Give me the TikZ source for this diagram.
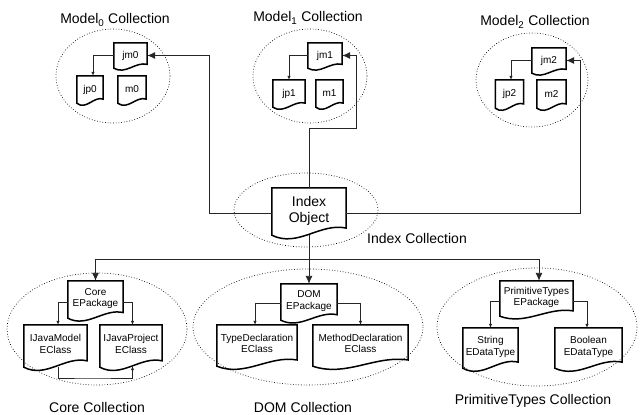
\documentclass[tikz,border=0pt]{standalone}
\usepackage{fontspec}
\setmainfont{Liberation Sans}
\usetikzlibrary{arrows.meta,calc}
\tikzset{
  doc/.style={inner sep=0pt, align=center, font=\fontsize{10}{11.5}\selectfont},
  docline/.style={line width=1.5pt, line join=miter},
  coll/.style={draw, dotted, line width=0.7pt},
  colltitle/.style={font=\fontsize{14}{16}\selectfont, inner sep=0pt},
  conn/.style={line width=0.9pt, draw=black!85},
  bigarrow/.style={conn, -{Latex[length=8pt,width=7pt]}},
  smallarrow/.style={conn, -{Latex[length=4pt,width=3.5pt]}},
}
\newcommand\docshape[1]{%
  \draw[docline] let \p1=(#1.south west), \p2=(#1.north east),
    \n1={\x2-\x1}, \n2={\y2-\y1} in
    (\x1,\y2) -- (\x2,\y2) -- (\x2,{\y1+0.15*\n2})
    .. controls ({\x2-0.35*\n1},{\y1+0.27*\n2}) and ({\x1+0.35*\n1},{\y1-0.27*\n2}) .. (\x1,\y1) -- cycle;}
\newcommand\lowdepth{\rule[-4pt]{0pt}{4pt}}
\begin{document}
\begin{tikzpicture}[x=1pt,y=-1pt]
\useasboundingbox (0,0) rectangle (640,415);

% ---------- collection ellipses ----------
\draw[coll] (113,76) ellipse [x radius=57, y radius=47];
\draw[coll] (310,76) ellipse [x radius=57, y radius=47];
\draw[coll] (532,80) ellipse [x radius=56, y radius=47];
\draw[coll] (306,210) ellipse [x radius=72, y radius=37];
\draw[coll] (97,329) ellipse [x radius=90, y radius=56];
\draw[coll] (308,327) ellipse [x radius=115, y radius=58];
\draw[coll] (537,327) ellipse [x radius=100, y radius=59];

% ---------- titles ----------
\node[colltitle] (t0) at (115,20) {Model\textsubscript{0} Collection};
\node[colltitle] (t1) at (308,18) {Model\textsubscript{1} Collection};
\node[colltitle] (t2) at (535,22) {Model\textsubscript{2} Collection};
\node[colltitle, anchor=west] (tidx) at (367,238) {Index Collection};
\node[colltitle] (tcore) at (97,407) {Core Collection};
\node[colltitle] (tdom) at (303,407) {DOM Collection};
\node[colltitle] (tprim) at (533,401) {PrimitiveTypes Collection};

% ---------- model nodes ----------
\node[doc, minimum width=33pt, minimum height=25pt] (jm0) at (130.5,55.5) {jm0};
\node[doc, minimum width=26pt, minimum height=27pt] (jp0) at (90,89.5) {jp0};
\node[doc, minimum width=28pt, minimum height=27pt] (m0) at (132,89.5) {m0};

\node[doc, minimum width=34pt, minimum height=25pt] (jm1) at (325,55.5) {jm1};
\node[doc, minimum width=32pt, minimum height=27pt] (jp1) at (289,93.5) {jp1};
\node[doc, minimum width=27pt, minimum height=27pt] (m1) at (329.5,93.5) {m1};

\node[doc, minimum width=34pt, minimum height=25pt] (jm2) at (549,60.5) {jm2};
\node[doc, minimum width=28pt, minimum height=28pt] (jp2) at (509.5,94) {jp2};
\node[doc, minimum width=29pt, minimum height=28pt] (m2) at (551.5,94) {m2};

% ---------- index ----------
\node[doc, font=\fontsize{14}{16}\selectfont, minimum width=74pt, minimum height=47pt] (idx) at (309,211.5) {Index\\Object\lowdepth};

% ---------- bottom collections ----------
\node[doc, minimum width=55pt, minimum height=37pt] (core) at (95.5,299.5) {Core\\EPackage\lowdepth};
\node[doc, minimum width=63pt, minimum height=42pt] (jmodel) at (55.5,346) {IJavaModel\\EClass\lowdepth};
\node[doc, minimum width=62pt, minimum height=42pt] (jproj) at (131,346) {IJavaProject\\EClass\lowdepth};

\node[doc, minimum width=56pt, minimum height=36pt] (dom) at (309,302) {DOM\\EPackage\lowdepth};
\node[doc, minimum width=80pt, minimum height=41pt] (tdecl) at (257,345.5) {TypeDeclaration\\EClass\lowdepth};
\node[doc, minimum width=95pt, minimum height=41pt] (mdecl) at (360.5,345.5) {MethodDeclaration\\EClass\lowdepth};

\node[doc, minimum width=73pt, minimum height=35pt] (prim) at (536.5,298.5) {PrimitiveTypes\\EPackage\lowdepth};
\node[doc, minimum width=55pt, minimum height=40pt] (str) at (490.5,348) {String\\EDataType\lowdepth};
\node[doc, minimum width=67pt, minimum height=40pt] (bool) at (588.5,348) {Boolean\\EDataType\lowdepth};

\foreach \nm in {jm0,jp0,m0,jm1,jp1,m1,jm2,jp2,m2,idx,core,jmodel,jproj,dom,tdecl,mdecl,prim,str,bool}{\docshape{\nm}}

% ---------- connectors inside collections ----------
\draw[smallarrow] (jm0.west) -| ([xshift=3pt]jp0.north);
\draw[smallarrow] (jm1.west) -| (jp1.north);
\draw[smallarrow] (jm2.west) -| ([xshift=1.5pt]jp2.north);

\draw[smallarrow] ([yshift=-2.5pt]core.west) -| ([xshift=2.5pt]jmodel.north);
\draw[smallarrow] ([yshift=-2.5pt]core.east) -| ([xshift=1.5pt]jproj.north);
\coordinate (cbot) at (90,378);
\draw[smallarrow] ([xshift=2.5pt]jmodel.south) |- (cbot) -| ([xshift=1.5pt,yshift=1pt]jproj.south);

\draw[smallarrow] ([yshift=-1pt]dom.west) -| ([xshift=-2pt]tdecl.north);
\draw[smallarrow] ([yshift=-1pt]dom.east) -| (mdecl.north);

\draw[smallarrow] ([yshift=-2.5pt]prim.west) -| (str.north);
\draw[smallarrow] ([yshift=-2.5pt]prim.east) -| ([xshift=-1.5pt]bool.north);

% ---------- index connectors ----------
\coordinate (b0) at (209,55.5);
\coordinate (b1a) at (356,128);
\coordinate (b2) at (580,60.5);
\coordinate (bus) at (309,259);
\draw[bigarrow] ([yshift=-1.5pt]idx.west) -| (b0) -- (jm0.east);
\draw[bigarrow] ([yshift=-1.5pt]idx.east) -| (b2) -- (jm2.east);
\draw[bigarrow] (idx.north) |- (b1a) |- (jm1.east);
\draw[conn] (idx.south) -- (bus);
\draw[bigarrow] (bus) -| (core.north);
\draw[bigarrow] (bus) -- (dom.north);
\draw[bigarrow] (bus) -| ([xshift=2.5pt]prim.north);
\end{tikzpicture}
\end{document}
